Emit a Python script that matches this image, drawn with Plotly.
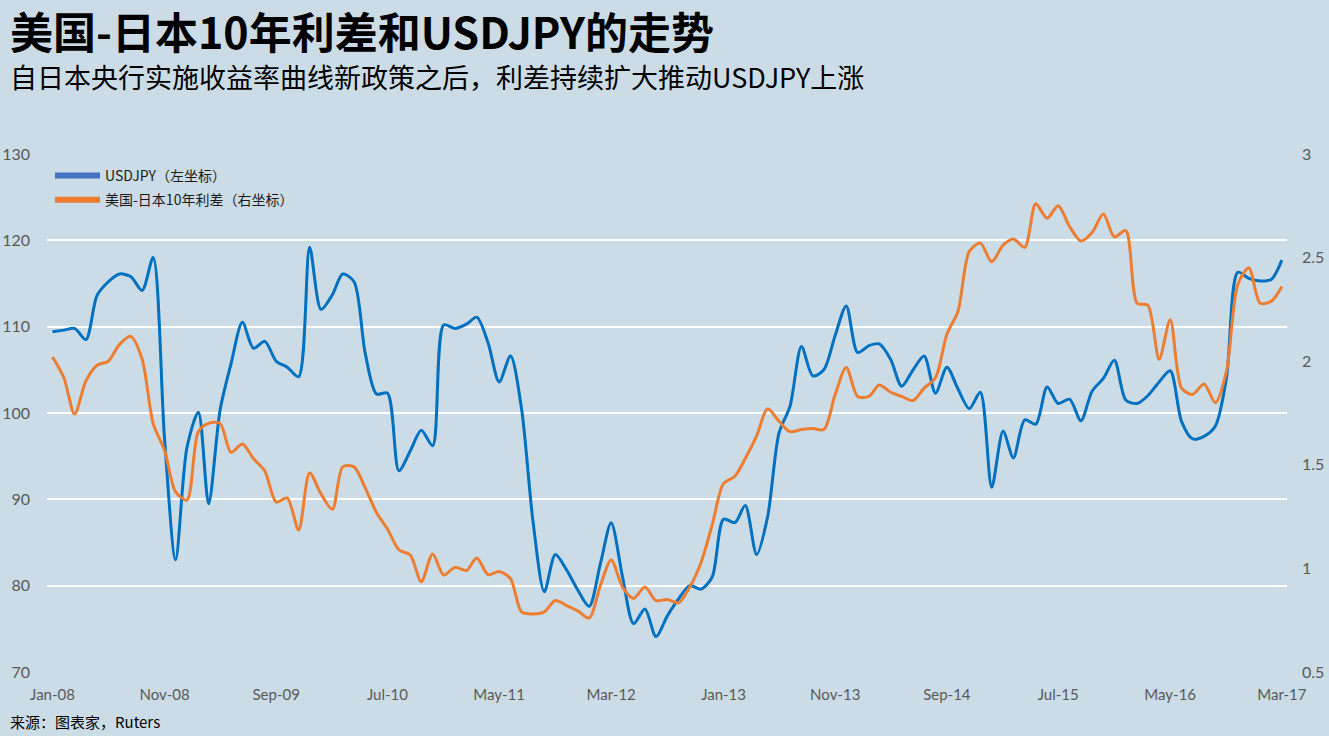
import pandas as pd
import plotly.graph_objects as go

# Monthly categories Jan-2008 .. Mar-2017
months = pd.date_range("2008-01-01", "2017-03-01", freq="MS")

usdjpy = [
    109.4, 109.6, 109.8, 108.5, 113.6, 115.2, 116.1, 115.8, 114.2, 118.0,
    97.0, 83.0, 96.0, 100.1, 89.5, 100.3, 105.7, 110.5, 107.5, 108.3,
    106.0, 105.3, 104.2, 119.2, 112.0, 113.7, 116.1, 115.2, 107.0, 102.2,
    102.3, 93.3, 95.6, 98.0, 96.2, 110.2, 109.8, 110.3, 111.1, 108.1,
    103.6, 106.6, 100.5, 87.5, 79.3, 83.6, 81.8, 79.5, 77.6, 82.6,
    87.3, 81.0, 75.6, 77.3, 74.1, 76.5, 78.5, 80.0, 79.6, 81.0,
    87.7, 87.3, 89.3, 83.6, 88.0, 97.7, 100.8, 107.7, 104.3, 105.0,
    109.0, 112.4, 107.0, 107.8, 108.0, 106.2, 103.1, 105.0, 106.6, 102.3,
    105.3, 102.8, 100.5, 102.4, 91.4, 97.9, 94.8, 99.2, 98.7, 103.0,
    101.1, 101.6, 99.1, 102.5, 104.0, 106.1, 101.5, 101.1, 102.0, 103.6,
    104.9, 99.0, 97.0, 97.3, 98.5, 104.0, 116.3, 115.6, 115.3, 115.5,
    117.7,
]

spread = [
    2.02, 1.92, 1.745, 1.905, 1.98, 2.00, 2.08, 2.12, 2.01, 1.70,
    1.57, 1.37, 1.33, 1.66, 1.70, 1.70, 1.56, 1.60, 1.53, 1.47,
    1.32, 1.34, 1.185, 1.46, 1.36, 1.285, 1.49, 1.49, 1.39, 1.27,
    1.19, 1.09, 1.065, 0.936, 1.07, 0.968, 1.005, 0.99, 1.05, 0.97,
    0.985, 0.95, 0.79, 0.78, 0.79, 0.845, 0.82, 0.795, 0.76, 0.92,
    1.04, 0.91, 0.855, 0.91, 0.845, 0.85, 0.835, 0.91, 1.03, 1.21,
    1.41, 1.445, 1.53, 1.64, 1.77, 1.71, 1.66, 1.67, 1.675, 1.67,
    1.84, 1.97, 1.83, 1.83, 1.885, 1.85, 1.83, 1.81, 1.87, 1.92,
    2.13, 2.24, 2.53, 2.57, 2.48, 2.56, 2.59, 2.55, 2.76, 2.69,
    2.75, 2.65, 2.58, 2.62, 2.71, 2.60, 2.63, 2.28, 2.27, 2.01,
    2.20, 1.87, 1.84, 1.89, 1.80, 1.95, 2.37, 2.45, 2.28, 2.29,
    2.36,
]

name_usdjpy = "USDJPY（左坐标）"
name_spread = "美国-日本10年利差（右坐标）"

title = "美国-日本10年利差和USDJPY的走势"
subtitle = "自日本央行实施收益率曲线新政策之后，利差持续扩大推动USDJPY上涨"
source = "来源：图表家，Ruters"

BLUE = "#0070C0"
ORANGE = "#ED7D31"
BG = "#CCDCE6"
CJK = "Noto Sans CJK SC"

W, H = 1329, 736
L, R, T, B = 47, 42, 154, 64
PW, PH = W - L - R, H - T - B

fig = go.Figure()
fig.add_trace(go.Scatter(x=months, y=usdjpy, mode="lines", name=name_usdjpy,
                         line=dict(color=BLUE, width=3, shape="spline", smoothing=0.8),
                         showlegend=False, yaxis="y"))
fig.add_trace(go.Scatter(x=months, y=spread, mode="lines", name=name_spread,
                         line=dict(color=ORANGE, width=3, shape="spline", smoothing=0.8),
                         showlegend=False, yaxis="y2"))
# legend entries (Excel-style swatches)
fig.add_trace(go.Scatter(x=[None], y=[None], mode="lines", name=name_usdjpy,
                         legendgroup="a",
                         line=dict(color="#4472C4", width=6)))
fig.add_trace(go.Scatter(x=[None], y=[None], mode="lines", name=name_spread,
                         legendgroup="b",
                         line=dict(color=ORANGE, width=6), yaxis="y2"))

fig.update_layout(
    width=W, height=H, autosize=False,
    margin=dict(l=L, r=R, t=T, b=B, autoexpand=False),
    paper_bgcolor=BG, plot_bgcolor=BG,
    font=dict(family=CJK, color="#595959"),
    xaxis=dict(
        type="date", automargin=False,
        range=["2007-12-17", "2017-03-15"],
        tick0="2008-01-01", dtick="M10", tickformat="%b-%y",
        showgrid=False, zeroline=False, showline=False, ticks="",
        tickfont=dict(family="Lato", size=15, color="#595959"),
        ticklabelstandoff=12,
    ),
    yaxis=dict(
        range=[70, 130], dtick=10, showgrid=True, gridcolor="white", gridwidth=2,
        zeroline=False, showline=False, ticks="", automargin=False,
        tickfont=dict(family="Lato", size=16, color="#595959"),
        ticklabelstandoff=16,
    ),
    yaxis2=dict(
        range=[0.5, 3], dtick=0.5, overlaying="y", side="right", showgrid=False,
        zeroline=False, showline=False, ticks="", automargin=False,
        tickfont=dict(family="Lato", size=16, color="#595959"),
        ticklabelstandoff=14,
    ),
    legend=dict(
        x=3 / PW, y=1 - 6 / PH, xanchor="left", yanchor="top",
        bgcolor="rgba(0,0,0,0)", itemwidth=45,
        font=dict(family=CJK, size=14, color="#1a1a1a"),
        tracegroupgap=3,
    ),
    showlegend=True,
)

fig.add_annotation(text=f"<b>{title}</b>", xref="paper", yref="paper",
                   x=(8 - L) / PW, y=1 + (T - 30) / PH, xanchor="left", yanchor="middle",
                   showarrow=False,
                   font=dict(family=CJK, size=43, color="black"))
fig.add_annotation(text=subtitle, xref="paper", yref="paper",
                   x=(8 - L) / PW, y=1 + (T - 76) / PH, xanchor="left", yanchor="middle",
                   showarrow=False,
                   font=dict(family=CJK, size=27, color="black"))
fig.add_annotation(text=source, xref="paper", yref="paper",
                   x=(8 - L) / PW, y=-(721 - (H - B)) / PH, xanchor="left", yanchor="middle",
                   showarrow=False,
                   font=dict(family=CJK, size=15, color="black"))

fig.write_html("out.html", config={"displayModeBar": False},
               post_script="document.body.style.margin='0';")
